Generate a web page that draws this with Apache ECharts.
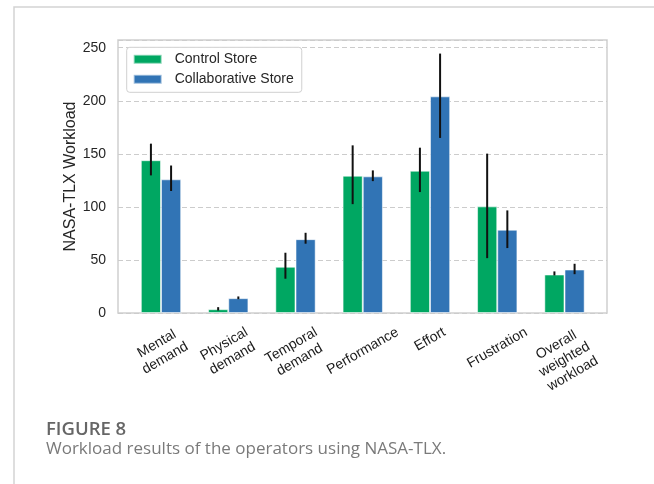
<!DOCTYPE html>
<html><head><meta charset="utf-8">
<script src="https://cdn.jsdelivr.net/npm/echarts@6/dist/echarts.min.js"></script>
<style>html,body{margin:0;padding:0;background:#fff}#c{width:654px;height:484px}</style>
</head><body><div id="c"></div>
<script>
const categories = ['Mental\ndemand','Physical\ndemand','Temporal\ndemand','Performance','Effort','Frustration','Overall\nweighted\nworkload'];
const seriesNames = ['Control Store','Collaborative Store'];
const controlValues = [144, 3.6, 43.6, 129.4, 134.1, 100.5, 36.3];
const collabValues  = [126, 14, 69.6, 128.8, 204.2, 78.5, 41];
const controlLow  = [129.7, 2.3, 32.3, 102.6, 114, 51.7, 35.4];
const controlHigh = [159.6, 5.5, 56.8, 158, 155.8, 150.2, 39.2];
const collabLow   = [115, 13, 65.3, 124.3, 165, 61.2, 36.6];
const collabHigh  = [139, 15.6, 75.6, 134.4, 244.5, 96.7, 46.4];
const yTickStep = 50;
const yMax = 257.3;

const GREEN = '#00a762', BLUE = '#3174b5';
const LABEL_FONT = 14, LABEL_LH = 16.5, LABEL_MARGIN = 5, LABEL_TOPGAP = 11;
const cv = document.createElement('canvas').getContext('2d');
cv.font = LABEL_FONT + 'px "Liberation Sans", Arial, sans-serif';
const rad = Math.PI / 6;
// emulate matplotlib's rotated labels (ha=center, va=top): place each rotated box so its top sits at a common gap
const xData = categories.map(function (c) {
  const lines = c.split('\n');
  const L = Math.max.apply(null, lines.map(function (s) { return cv.measureText(s).width; }));
  const h = lines.length * LABEL_LH;
  const H = L * Math.sin(rad) + h * Math.cos(rad);
  const s = LABEL_TOPGAP + H / 2 - LABEL_MARGIN;      // wanted screen-down shift of the label centre
  const D = s / (Math.cos(rad) + Math.sin(rad) * Math.tan(rad)); // along text-down
  const E = D * Math.tan(rad);                         // along text-left (keeps x fixed)
  const pTop = Math.max(0, D - h / 2);
  return { value: c, textStyle: { align: 'center', verticalAlign: 'top', padding: [pTop, 2 * E, 0, 0] } };
});

function errRender(sign) {
  return function (params, api) {
    const x = api.value(0), lo = api.value(1), hi = api.value(2);
    const band = api.size([1, 0])[0];
    const p1 = api.coord([x, lo]), p2 = api.coord([x, hi]);
    const dx = sign * band * 0.15;
    return { type: 'line', shape: { x1: p1[0] + dx, y1: p1[1], x2: p2[0] + dx, y2: p2[1] },
             style: { stroke: '#111', lineWidth: 2 } };
  };
}

const chart = echarts.init(document.getElementById('c'), null, { renderer: 'canvas' });
chart.setOption({
  animation: false,
  backgroundColor: '#fff',
  textStyle: { fontFamily: '"Liberation Sans", Arial, sans-serif' },
  grid: [
    { left: 118, top: 40, width: 489, height: 273, show: true, borderColor: '#d0d0d0', borderWidth: 1.5, z: 0 },
    { left: 127.375, top: 40, width: 470.75, height: 273 }
  ],
  legend: {
    data: seriesNames, orient: 'vertical', left: 126.7, top: 47.3,
    padding: [5, 8, 6, 6], itemGap: 6, itemWidth: 28, itemHeight: 9, icon: 'rect',
    backgroundColor: '#fff', borderColor: '#d0d0d0', borderWidth: 1, borderRadius: 3,
    textStyle: { fontSize: 14, color: '#262626', padding: [0, 0, 0, 8] }
  },
  xAxis: [
    { gridIndex: 0, type: 'value', min: 0, max: 1, show: false },
    { gridIndex: 1, type: 'category', data: xData,
      axisLine: { show: false }, axisTick: { show: false },
      axisLabel: { interval: 0, rotate: 30, margin: LABEL_MARGIN,
                   fontSize: LABEL_FONT, lineHeight: LABEL_LH, color: '#1a1a1a' } }
  ],
  yAxis: [
    { gridIndex: 0, type: 'value', min: 0, max: yMax, interval: yTickStep,
      axisLine: { show: false }, axisTick: { show: false },
      axisLabel: { fontSize: 14, color: '#262626', margin: 12, showMaxLabel: false,
                   formatter: function (v) { return v % yTickStep === 0 ? String(v) : ''; } },
      splitLine: { show: true, lineStyle: { color: '#cccccc', width: 1, type: [5, 3] } },
      name: 'NASA-TLX Workload', nameLocation: 'middle', nameGap: 39, nameMoveOverlap: false,
      nameTextStyle: { fontSize: 16, color: '#262626' } },
    { gridIndex: 1, type: 'value', min: 0, max: yMax, show: false }
  ],
  series: [
    { name: seriesNames[0], type: 'bar', xAxisIndex: 1, yAxisIndex: 1, data: controlValues,
      barWidth: '30%', barGap: '0%', itemStyle: { color: GREEN, borderColor: 'rgba(255,255,255,0.55)', borderWidth: 1 } },
    { name: seriesNames[1], type: 'bar', xAxisIndex: 1, yAxisIndex: 1, data: collabValues,
      barWidth: '30%', barGap: '0%', itemStyle: { color: BLUE, borderColor: 'rgba(255,255,255,0.55)', borderWidth: 1 } },
    { type: 'custom', xAxisIndex: 1, yAxisIndex: 1, z: 5, renderItem: errRender(-1),
      encode: { x: 0, y: [1, 2] }, data: categories.map(function (c, i) { return [i, controlLow[i], controlHigh[i]]; }) },
    { type: 'custom', xAxisIndex: 1, yAxisIndex: 1, z: 5, renderItem: errRender(1),
      encode: { x: 0, y: [1, 2] }, data: categories.map(function (c, i) { return [i, collabLow[i], collabHigh[i]]; }) }
  ],
  graphic: [
    { type: 'polyline', shape: { points: [[14, 484], [14, 7], [654, 7]] }, style: { stroke: '#d3d3d3', lineWidth: 1.5, fill: null } },
    { type: 'text', left: 46, top: 420, style: { text: 'FIGURE 8', font: '600 18.5px "Open Sans", sans-serif', fill: '#666666' } },
    { type: 'text', left: 46, top: 441, style: { text: 'Workload results of the operators using NASA-TLX.', font: '17px "Open Sans", sans-serif', fill: '#7a7a7a' } }
  ]
});
</script></body></html>
